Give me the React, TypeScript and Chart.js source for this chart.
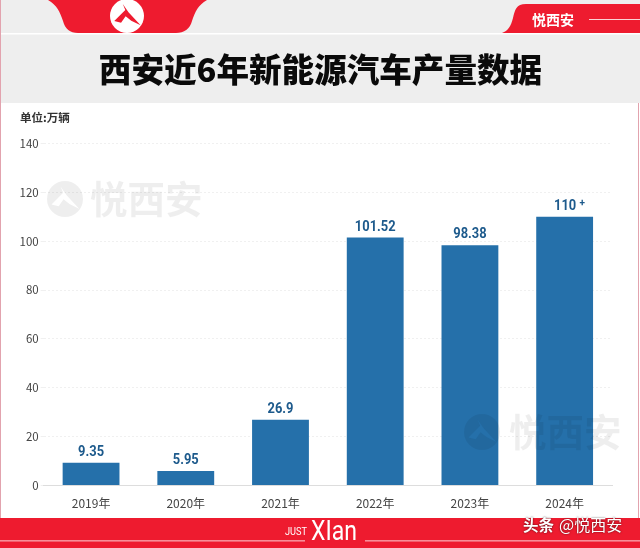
import React, { useEffect, useRef } from 'react';
import { Chart, registerables } from 'chart.js';

Chart.register(...registerables);

const years = ['2019年', '2020年', '2021年', '2022年', '2023年', '2024年'];
const output = [9.35, 5.95, 26.9, 101.52, 98.38, 110];
const valueLabels = ['9.35', '5.95', '26.9', '101.52', '98.38', '110'];
const valueSuffix = ['', '', '', '', '', '+'];
const yTicks = [0, 20, 40, 60, 80, 100, 120, 140];

const CJK = '"Noto Sans CJK SC", "Noto Sans", sans-serif';
const LATIN = 'Roboto, "Liberation Sans", sans-serif';
const RED = '#ee1b2f';
const BAR = '#2570aa';

// mountain mark used in the badge and the watermarks
const drawLogo = (ctx: CanvasRenderingContext2D, x: number, y: number, r: number, bg: string, fg: string) => {
    ctx.fillStyle = bg;
    ctx.beginPath();
    ctx.arc(x, y, r, 0, Math.PI * 2);
    ctx.fill();
    ctx.fillStyle = fg;
    ctx.beginPath();
    ctx.moveTo(x - r * 0.75, y + r * 0.3);
    ctx.lineTo(x - r * 0.1, y - r * 0.35);
    ctx.lineTo(x - r * 0.25, y - r * 0.7);
    ctx.lineTo(x + r * 0.1, y - r * 0.2);
    ctx.lineTo(x + r * 0.8, y + r * 0.55);
    ctx.lineTo(x + r * 0.25, y + r * 0.28);
    ctx.lineTo(x - r * 0.08, y + r * 0.02);
    ctx.lineTo(x - r * 0.35, y + r * 0.4);
    ctx.closePath();
    ctx.fill();
};

const backdrop = {
    id: 'backdrop',
    beforeDraw(chart: Chart) {
        const ctx = chart.ctx;
        ctx.save();
        ctx.fillStyle = '#ffffff';
        ctx.fillRect(0, 0, 640, 548);

        // header band
        ctx.fillStyle = '#eeeeee';
        ctx.fillRect(0, 0, 640, 103);
        ctx.fillStyle = '#ffffff';
        ctx.fillRect(0, 33, 640, 1.5);

        // left tab
        ctx.fillStyle = RED;
        ctx.beginPath();
        ctx.moveTo(48, 0);
        ctx.lineTo(207, 0);
        ctx.bezierCurveTo(198, 5, 195, 12, 192, 21);
        ctx.bezierCurveTo(190, 29, 184, 33, 176, 33);
        ctx.lineTo(78, 33);
        ctx.bezierCurveTo(70, 33, 65, 29, 63, 21);
        ctx.bezierCurveTo(60, 12, 57, 5, 48, 0);
        ctx.fill();
        ctx.save();
        ctx.beginPath();
        ctx.rect(100, 0, 60, 33);
        ctx.clip();
        drawLogo(ctx, 127, 16, 17, '#ffffff', RED);
        ctx.restore();

        // right tab
        ctx.fillStyle = RED;
        ctx.beginPath();
        ctx.moveTo(640, 4);
        ctx.lineTo(526, 4);
        ctx.bezierCurveTo(516, 4, 515, 10, 513, 18);
        ctx.bezierCurveTo(511, 26, 508, 31, 502, 33);
        ctx.lineTo(640, 33);
        ctx.fill();
        ctx.fillStyle = '#ffffff';
        ctx.font = `bold 14px ${CJK}`;
        ctx.textAlign = 'left';
        ctx.textBaseline = 'middle';
        ctx.fillText('悦西安', 532, 20);
        ctx.fillRect(589, 19, 51, 0.8);

        // title
        ctx.fillStyle = '#0a0a0a';
        ctx.font = `900 32.6px ${CJK}`;
        ctx.textAlign = 'center';
        ctx.fillText('西安近6年新能源汽车产量数据', 320.5, 70);

        // unit
        ctx.fillStyle = '#333333';
        ctx.font = `bold 11.5px ${CJK}`;
        ctx.textAlign = 'left';
        ctx.fillText('单位:万辆', 20, 118);

        // footer
        ctx.fillStyle = RED;
        ctx.fillRect(0, 518, 640, 30);
        ctx.fillStyle = '#ffffff';
        ctx.fillRect(0, 540.5, 305, 0.8);
        ctx.fillRect(365, 540.5, 275, 0.8);
        ctx.textBaseline = 'alphabetic';
        ctx.font = `11px ${LATIN}`;
        ctx.fillText('JUST', 285, 535, 22);
        ctx.font = `28px ${LATIN}`;
        ctx.fillText('XIan', 311, 540, 46);

        ctx.textBaseline = 'middle';
        ctx.shadowColor = 'rgba(0,0,0,0.7)';
        ctx.shadowBlur = 2;
        ctx.font = `bold 15.5px ${CJK}`;
        ctx.fillText('头条', 523, 525);
        ctx.font = `16px ${CJK}`;
        ctx.fillText('@悦西安', 559, 525);
        ctx.shadowBlur = 0;

        // thin pink edges
        ctx.fillStyle = '#e2a3ae';
        ctx.fillRect(0, 0, 1, 518);
        ctx.fillRect(638, 103, 1, 415);
        ctx.restore();
    },
};

const barValues = {
    id: 'barValues',
    afterDatasetsDraw(chart: Chart) {
        const ctx = chart.ctx;
        ctx.save();

        // watermarks lie over the bars
        const shade = 'rgba(0,0,0,0.067)';
        drawLogo(ctx, 65, 199, 18, shade, '#ffffff');
        drawLogo(ctx, 482, 432, 18, shade, BAR);
        ctx.fillStyle = shade;
        ctx.font = `bold 37.5px ${CJK}`;
        ctx.textAlign = 'left';
        ctx.textBaseline = 'middle';
        ctx.fillText('悦西安', 90, 199);
        ctx.fillText('悦西安', 509, 432);

        ctx.fillStyle = '#1d5a8c';
        ctx.textBaseline = 'alphabetic';
        ctx.textAlign = 'center';
        chart.getDatasetMeta(0).data.forEach((bar, i) => {
            ctx.font = `bold 15px ${LATIN}`;
            const x = valueSuffix[i] ? bar.x + 0.5 : bar.x;
            // the labels are set in a condensed face, so squeeze them
            const w = ctx.measureText(valueLabels[i]).width * 0.86;
            ctx.fillText(valueLabels[i], x, bar.y - 7, w);
            if (valueSuffix[i]) {
                ctx.font = `bold 10px ${LATIN}`;
                ctx.fillText(valueSuffix[i], x + 17, bar.y - 11);
            }
        });
        ctx.restore();
    },
};

export default function App() {
    const canvasRef = useRef<HTMLCanvasElement>(null);

    useEffect(() => {
        document.body.style.margin = '0';
        const chart = new Chart(canvasRef.current!, {
            type: 'bar',
            data: {
                labels: years,
                datasets: [
                    {
                        data: output,
                        backgroundColor: BAR,
                        barPercentage: 0.6,
                        categoryPercentage: 1,
                    },
                ],
            },
            options: {
                responsive: false,
                animation: false,
                devicePixelRatio: 1,
                layout: { padding: { top: 143.5, right: 28, left: 0, bottom: 0 } },
                plugins: { legend: { display: false }, tooltip: { enabled: false } },
                scales: {
                    x: {
                        afterFit: (scale) => {
                            scale.height = 62.5;
                        },
                        grid: { display: false },
                        border: { color: '#dddddd' },
                        ticks: {
                            color: '#444444',
                            padding: 3,
                            font: { family: CJK, size: 12 },
                        },
                    },
                    y: {
                        min: 0,
                        max: 140,
                        afterFit: (scale) => {
                            scale.width = 43.7;
                        },
                        afterBuildTicks: (scale) => {
                            scale.ticks = yTicks.map((value) => ({ value }));
                        },
                        grid: { color: '#ececec', lineWidth: 0.8, tickLength: 3 },
                        border: { display: false, dash: [2, 2] },
                        ticks: {
                            color: '#444444',
                            padding: 2,
                            font: { family: CJK, size: 11.5 },
                        },
                    },
                },
            },
            plugins: [backdrop, barValues],
        });
        return () => chart.destroy();
    }, []);

    return <canvas ref={canvasRef} width={640} height={548} style={{ display: 'block' }} />;
}
